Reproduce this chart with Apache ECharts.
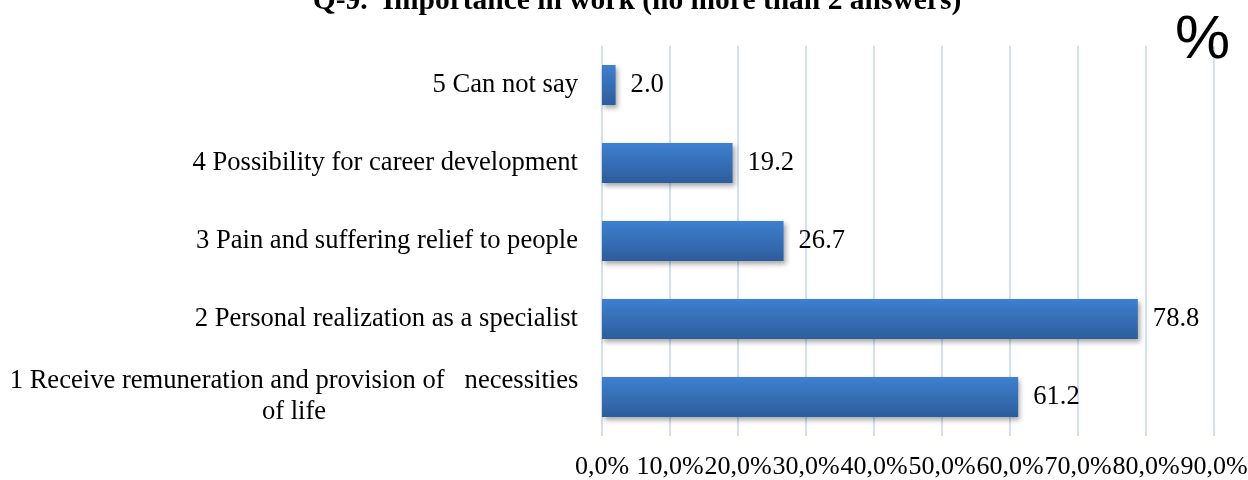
<!DOCTYPE html>
<html>
<head>
<meta charset="utf-8">
<script src="https://cdn.jsdelivr.net/npm/echarts@6/dist/echarts.min.js"></script>
<style>
  html, body { margin: 0; padding: 0; background: #fff; }
  #chart { width: 1248px; height: 480px; }
</style>
</head>
<body>
<div id="chart"></div>
<script>
// Answer options, listed from the bottom row upward
const categories = [
  '1 Receive remuneration and provision of   necessities\nof life',
  '2 Personal realization as a specialist',
  '3 Pain and suffering relief to people',
  '4 Possibility for career development',
  '5 Can not say'
];
// Share of respondents choosing each option, %
const shares = [61.2, 78.8, 26.7, 19.2, 2.0];
// Horizontal axis ticks, %
const tickValues = [0, 10, 20, 30, 40, 50, 60, 70, 80, 90];

const serif = '"Liberation Serif", "Times New Roman", serif';

const chart = echarts.init(document.getElementById('chart'));
chart.setOption({
  animation: false,
  backgroundColor: '#ffffff',
  title: [
    {
      text: 'Q-9.  Importance in work (no more than 2 answers)',
      left: 632,
      textAlign: 'center',
      top: -19,
      textStyle: { fontFamily: serif, fontWeight: 'bold', fontSize: 29.5, color: '#000' }
    },
    {
      text: '%',
      left: 1170,
      top: 5,
      textStyle: { fontFamily: '"Liberation Sans", Arial, sans-serif', fontWeight: 'normal', fontSize: 62, color: '#000' }
    }
  ],
  grid: { left: 602, right: 34, top: 46, bottom: 44, containLabel: false, outerBoundsMode: 'none' },
  xAxis: {
    type: 'value',
    min: tickValues[0],
    max: tickValues[tickValues.length - 1],
    interval: 10,
    axisLine: { show: false },
    axisTick: { show: false },
    splitLine: { show: true, lineStyle: { color: '#d3e0f1', width: 2 } },
    axisLabel: {
      margin: 18,
      fontFamily: serif,
      fontSize: 26,
      color: '#000',
      showMinLabel: true,
      showMaxLabel: true,
      hideOverlap: false,
      formatter: v => v.toFixed(1).replace('.', ',') + '%'
    }
  },
  yAxis: {
    type: 'category',
    data: categories,
    axisLine: { show: false },
    axisTick: { show: false },
    axisLabel: {
      margin: 24,
      fontFamily: serif,
      fontSize: 26.6,
      color: '#000',
      lineHeight: 31,
      formatter: v => v.indexOf('\n') >= 0
        ? v.split('\n').map(s => '{c|' + s + '}').join('\n')
        : v,
      rich: {
        c: { width: 568, align: 'center', fontFamily: serif, fontSize: 26.6, lineHeight: 31, color: '#000' }
      }
    }
  },
  series: [{
    type: 'bar',
    data: shares,
    barWidth: 40,
    itemStyle: {
      color: new echarts.graphic.LinearGradient(0, 0, 0, 1, [
        { offset: 0, color: '#3e80d0' },
        { offset: 1, color: '#2d5d9c' }
      ]),
      shadowColor: 'rgba(0,0,0,0.35)',
      shadowBlur: 5,
      shadowOffsetX: 2,
      shadowOffsetY: 3
    },
    label: {
      show: true,
      position: 'right',
      distance: 15,
      fontFamily: serif,
      fontSize: 26.6,
      color: '#000',
      formatter: p => p.value.toFixed(1)
    }
  }]
});
</script>
</body>
</html>
